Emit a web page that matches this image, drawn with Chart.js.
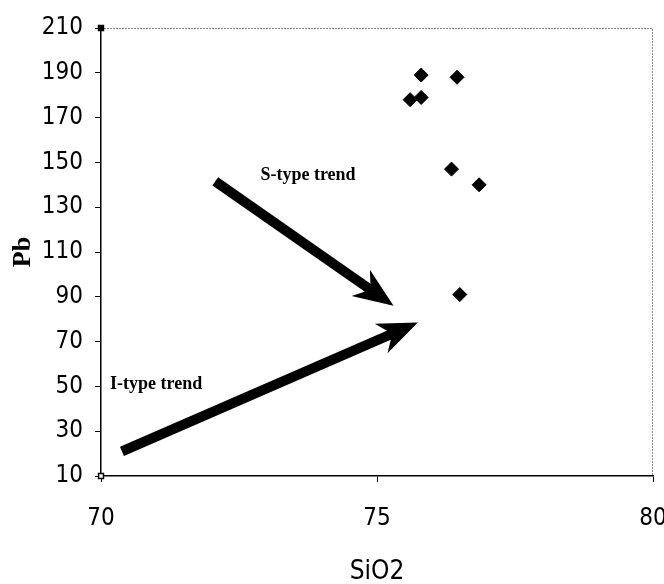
<!DOCTYPE html>
<html>
<head>
<meta charset="utf-8">
<script src="https://cdn.jsdelivr.net/npm/chart.js@4/dist/chart.umd.min.js"></script>
<style>
  html, body { margin: 0; padding: 0; background: #fff; }
  #wrap { width: 664px; height: 584px; }
</style>
</head>
<body>
<div id="wrap"><canvas id="pbChart"></canvas></div>
<script>
// Sample analyses: SiO2 (wt%) against Pb (ppm)
const siO2 = [75.8, 76.45, 75.6, 75.8, 76.35, 76.85, 76.5];
const pb = [189, 188, 178, 179, 147, 140, 91];

// Axis limits and tick steps
const xRange = [70, 80];
const yRange = [10, 210];
const xStep = 5;
const yStep = 20;

// Trend arrows, in data units: [SiO2, Pb]
const sTypeFrom = [72.07, 141.5];
const sTypeTo = [75.3, 86];
const iTypeFrom = [70.38, 21];
const iTypeTo = [75.74, 78.5];
const trendLabels = ['S-type trend', 'I-type trend'];
const labelAt = [[73.75, 144], [71.0, 51]];

const narrow = "'DejaVu Sans Condensed', 'DejaVu Sans', sans-serif";
const serif = "'Liberation Serif', 'DejaVu Serif', serif";

function drawArrow(ctx, x, y, from, to) {
    const x0 = x.getPixelForValue(from[0]), y0 = y.getPixelForValue(from[1]);
    const x1 = x.getPixelForValue(to[0]), y1 = y.getPixelForValue(to[1]);
    const len = Math.hypot(x1 - x0, y1 - y0);
    const ux = (x1 - x0) / len, uy = (y1 - y0) / len;
    const nx = -uy, ny = ux;
    const headLen = 40, halfW = 16, notch = 28;

    ctx.save();
    ctx.strokeStyle = '#000';
    ctx.fillStyle = '#000';
    ctx.lineWidth = 10;
    ctx.lineCap = 'butt';
    ctx.beginPath();
    ctx.moveTo(x0, y0);
    ctx.lineTo(x1 - ux * notch, y1 - uy * notch);
    ctx.stroke();

    ctx.beginPath();
    ctx.moveTo(x1, y1);
    ctx.lineTo(x1 - ux * headLen + nx * halfW, y1 - uy * headLen + ny * halfW);
    ctx.lineTo(x1 - ux * notch, y1 - uy * notch);
    ctx.lineTo(x1 - ux * headLen - nx * halfW, y1 - uy * headLen - ny * halfW);
    ctx.closePath();
    ctx.fill();
    ctx.restore();
}

const trendPlugin = {
    id: 'trends',
    beforeDatasetsDraw(chart) {
        const {ctx, chartArea: a} = chart;
        // dotted frame on the top and right sides
        ctx.save();
        ctx.strokeStyle = '#888';
        ctx.lineWidth = 1;
        ctx.setLineDash([2, 1]);
        ctx.beginPath();
        ctx.moveTo(a.left, a.top + 0.5);
        ctx.lineTo(a.right - 0.5, a.top + 0.5);
        ctx.lineTo(a.right - 0.5, a.bottom);
        ctx.stroke();
        ctx.restore();
    },
    afterDatasetsDraw(chart) {
        const {ctx} = chart;
        const x = chart.scales.x, y = chart.scales.y;
        drawArrow(ctx, x, y, sTypeFrom, sTypeTo);
        drawArrow(ctx, x, y, iTypeFrom, iTypeTo);

        ctx.save();
        ctx.fillStyle = '#000';
        ctx.font = 'bold 18px ' + serif;
        ctx.textAlign = 'center';
        ctx.textBaseline = 'middle';
        trendLabels.forEach((t, i) => {
            ctx.fillText(t, x.getPixelForValue(labelAt[i][0]), y.getPixelForValue(labelAt[i][1]));
        });
        ctx.restore();
    }
};

const ctx = document.getElementById('pbChart').getContext('2d');
new Chart(ctx, {
    type: 'scatter',
    data: {
        datasets: [
            {
                label: 'Samples',
                data: siO2.map((v, i) => ({x: v, y: pb[i]})),
                pointStyle: 'rectRot',
                pointRadius: 7,
                backgroundColor: '#000',
                borderColor: '#000'
            },
            {
                label: 'Corners',
                data: [{x: xRange[0], y: yRange[1]}, {x: xRange[0], y: yRange[0]}],
                clip: false,
                pointStyle: 'rect',
                pointRadius: 3.5,
                borderWidth: 1.5,
                backgroundColor: ['#000', '#fff'],
                borderColor: '#000'
            }
        ]
    },
    options: {
        responsive: true,
        maintainAspectRatio: false,
        animation: false,
        layout: { padding: { top: 28, right: 11, left: 0, bottom: 0 } },
        plugins: {
            legend: { display: false },
            tooltip: { enabled: false }
        },
        scales: {
            x: {
                type: 'linear',
                min: xRange[0],
                max: xRange[1],
                afterFit(scale) {
                    scale.height = 108;
                    scale.paddingLeft = 0;
                    scale.paddingRight = 0;
                },
                border: { display: true, color: '#000', width: 1.5 },
                grid: { drawOnChartArea: false, drawTicks: true, tickLength: 6, color: '#000' },
                ticks: {
                    stepSize: xStep,
                    color: '#000',
                    padding: 22,
                    maxRotation: 0,
                    font: { family: narrow, size: 24 }
                },
                title: {
                    display: true,
                    text: 'SiO2',
                    color: '#000',
                    padding: { top: 0, bottom: -4 },
                    font: { family: narrow, size: 26 }
                }
            },
            y: {
                type: 'linear',
                min: yRange[0],
                max: yRange[1],
                afterFit(scale) { scale.width = 101; },
                border: { display: true, color: '#000', width: 1.5 },
                grid: { drawOnChartArea: false, drawTicks: true, tickLength: 6, color: '#000' },
                ticks: {
                    stepSize: yStep,
                    color: '#000',
                    padding: 12,
                    font: { family: narrow, size: 24 }
                },
                title: {
                    display: true,
                    text: 'Pb',
                    color: '#000',
                    padding: { top: 8, bottom: 0 },
                    font: { family: serif, size: 26, weight: 'bold' }
                }
            }
        }
    },
    plugins: [trendPlugin]
});
</script>
</body>
</html>
